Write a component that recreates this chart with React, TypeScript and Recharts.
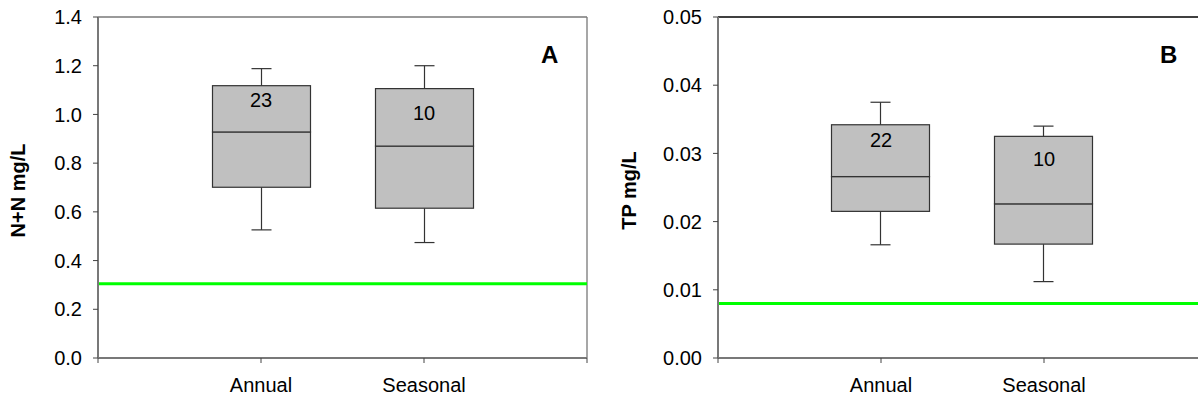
import {
  ComposedChart,
  Bar,
  Scatter,
  XAxis,
  YAxis,
  ReferenceLine,
} from 'recharts'

const categories = ['Annual', 'Seasonal']

// panel A: N+N (mg/L)
const nnMin = [0.526, 0.474]
const nnQ1 = [0.701, 0.615]
const nnMedian = [0.928, 0.87]
const nnQ3 = [1.118, 1.106]
const nnMax = [1.188, 1.2]
const nnCount = [23, 10]
const nnCountPos = [1.058, 1.004]
const nnTarget = 0.305
const nnTicks = [0, 0.2, 0.4, 0.6, 0.8, 1.0, 1.2, 1.4]

// panel B: TP (mg/L)
const tpMin = [0.0166, 0.0112]
const tpQ1 = [0.0215, 0.0167]
const tpMedian = [0.0266, 0.0226]
const tpQ3 = [0.0342, 0.0325]
const tpMax = [0.0375, 0.034]
const tpCount = [22, 10]
const tpCountPos = [0.032, 0.0292]
const tpTarget = 0.008
const tpTicks = [0, 0.01, 0.02, 0.03, 0.04, 0.05]

const FONT = '"Liberation Sans", Arial, sans-serif'
const AXIS = '#787878'
const BOX_FILL = '#c0c0c0'
const BOX_STROKE = '#333'

interface BoxStats {
  min: number[]
  q1: number[]
  median: number[]
  q3: number[]
  max: number[]
  count: number[]
  countPos: number[]
}

function buildRows(s: BoxStats) {
  return categories.map((name, i) => ({
    x: i + 1,
    name,
    base: s.min[i],
    lowWhisker: s.q1[i] - s.min[i],
    lowBox: s.median[i] - s.q1[i],
    highBox: s.q3[i] - s.median[i],
    highWhisker: s.max[i] - s.q3[i],
  }))
}

const LowWhisker = (p: any) => {
  const cx = p.x + p.width / 2
  const bottom = p.y + p.height
  return (
    <g stroke={BOX_STROKE} strokeWidth={1.2}>
      <line x1={cx} x2={cx} y1={p.y} y2={bottom} />
      <line x1={cx - 10} x2={cx + 10} y1={bottom} y2={bottom} />
    </g>
  )
}

const HighWhisker = (p: any) => {
  const cx = p.x + p.width / 2
  return (
    <g stroke={BOX_STROKE} strokeWidth={1.2}>
      <line x1={cx} x2={cx} y1={p.y} y2={p.y + p.height} />
      <line x1={cx - 10} x2={cx + 10} y1={p.y} y2={p.y} />
    </g>
  )
}

const BoxPart = (p: any) => (
  <rect
    x={p.x}
    y={p.y}
    width={p.width}
    height={p.height}
    fill={BOX_FILL}
    stroke={BOX_STROKE}
    strokeWidth={1.2}
  />
)

const CountLabel = (p: any) => (
  <text
    x={p.cx}
    y={p.cy}
    textAnchor="middle"
    dominantBaseline="central"
    fontSize={20}
    fontFamily={FONT}
    fill="#000"
  >
    {p.payload.n}
  </text>
)

interface PanelProps {
  stats: BoxStats
  ticks: number[]
  target: number
  yTitle: string
  titleX: number
  tickFmt: (v: number) => string
  yAxisWidth: number
  width: number
  topColor: string
}

function BoxPanel({ stats, ticks, target, yTitle, titleX, tickFmt, yAxisWidth, width, topColor }: PanelProps) {
  const rows = buildRows(stats)
  const counts = categories.map((_c, i) => ({ x: i + 1, y: stats.countPos[i], n: stats.count[i] }))
  const yMax = ticks[ticks.length - 1]
  const tickStyle = { fontSize: 20, fontFamily: FONT, fill: '#000' }

  return (
    <ComposedChart
      width={width}
      height={403}
      data={rows}
      margin={{ top: 17, right: width - yAxisWidth - 489, bottom: 0, left: 0 }}
    >
      <XAxis
        dataKey="x"
        type="number"
        domain={[0, 3]}
        ticks={[0, 1, 2, 3]}
        allowDataOverflow
        height={45}
        tickSize={5}
        tickMargin={15}
        tick={tickStyle}
        tickFormatter={(v: number) => (v === 1 || v === 2 ? categories[v - 1] : '')}
        axisLine={{ stroke: AXIS, strokeWidth: 2 }}
        tickLine={{ stroke: '#444' }}
      />
      <YAxis
        type="number"
        domain={[0, yMax]}
        ticks={ticks}
        allowDataOverflow
        width={yAxisWidth}
        tickSize={5}
        tickMargin={11}
        tick={tickStyle}
        tickFormatter={tickFmt}
        axisLine={{ stroke: AXIS, strokeWidth: 2 }}
        tickLine={{ stroke: '#444' }}
        label={{
          content: ({ viewBox }: any) => {
            const x = viewBox.x + titleX
            const y = viewBox.y + viewBox.height / 2 + 3
            return (
              <text
                x={x}
                y={y}
                transform={`rotate(-90 ${x} ${y})`}
                textAnchor="middle"
                dominantBaseline="central"
                fontSize={20}
                fontWeight="bold"
                fontFamily={FONT}
                fill="#000"
              >
                {yTitle}
              </text>
            )
          },
        }}
      />
      <ReferenceLine y={yMax} stroke={topColor} strokeWidth={1.3} />
      <ReferenceLine x={3} stroke={AXIS} strokeWidth={1.3} />
      <ReferenceLine y={target} stroke="#00ff00" strokeWidth={3} />
      <Bar dataKey="base" stackId="box" barSize={98} fill="none" isAnimationActive={false} />
      <Bar dataKey="lowWhisker" stackId="box" barSize={98} shape={LowWhisker} isAnimationActive={false} />
      <Bar dataKey="lowBox" stackId="box" barSize={98} shape={BoxPart} isAnimationActive={false} />
      <Bar dataKey="highBox" stackId="box" barSize={98} shape={BoxPart} isAnimationActive={false} />
      <Bar dataKey="highWhisker" stackId="box" barSize={98} shape={HighWhisker} isAnimationActive={false} />
      <Scatter data={counts} dataKey="y" shape={CountLabel} isAnimationActive={false} />
    </ComposedChart>
  )
}

const panelLetter = {
  position: 'absolute' as const,
  top: 40,
  fontSize: 24,
  fontWeight: 'bold' as const,
  fontFamily: FONT,
  lineHeight: '30px',
}

export default function App() {
  return (
    <div
      style={{
        position: 'absolute',
        left: 0,
        top: 0,
        width: 1198,
        height: 403,
        overflow: 'hidden',
        background: '#fff',
      }}
    >
      <div style={{ position: 'absolute', left: 0, top: 0 }}>
        <BoxPanel
          stats={{ min: nnMin, q1: nnQ1, median: nnMedian, q3: nnQ3, max: nnMax, count: nnCount, countPos: nnCountPos }}
          ticks={nnTicks}
          target={nnTarget}
          yTitle="N+N mg/L"
          titleX={18}
          tickFmt={(v) => v.toFixed(1)}
          yAxisWidth={98}
          width={600}
          topColor={AXIS}
        />
      </div>
      <div style={{ position: 'absolute', left: 600, top: 0 }}>
        <BoxPanel
          stats={{ min: tpMin, q1: tpQ1, median: tpMedian, q3: tpQ3, max: tpMax, count: tpCount, countPos: tpCountPos }}
          ticks={tpTicks}
          target={tpTarget}
          yTitle="TP mg/L"
          titleX={29}
          tickFmt={(v) => v.toFixed(2)}
          yAxisWidth={118}
          width={620}
          topColor="#000"
        />
      </div>
      <div style={{ ...panelLetter, left: 541 }}>A</div>
      <div style={{ ...panelLetter, left: 1160 }}>B</div>
    </div>
  )
}
